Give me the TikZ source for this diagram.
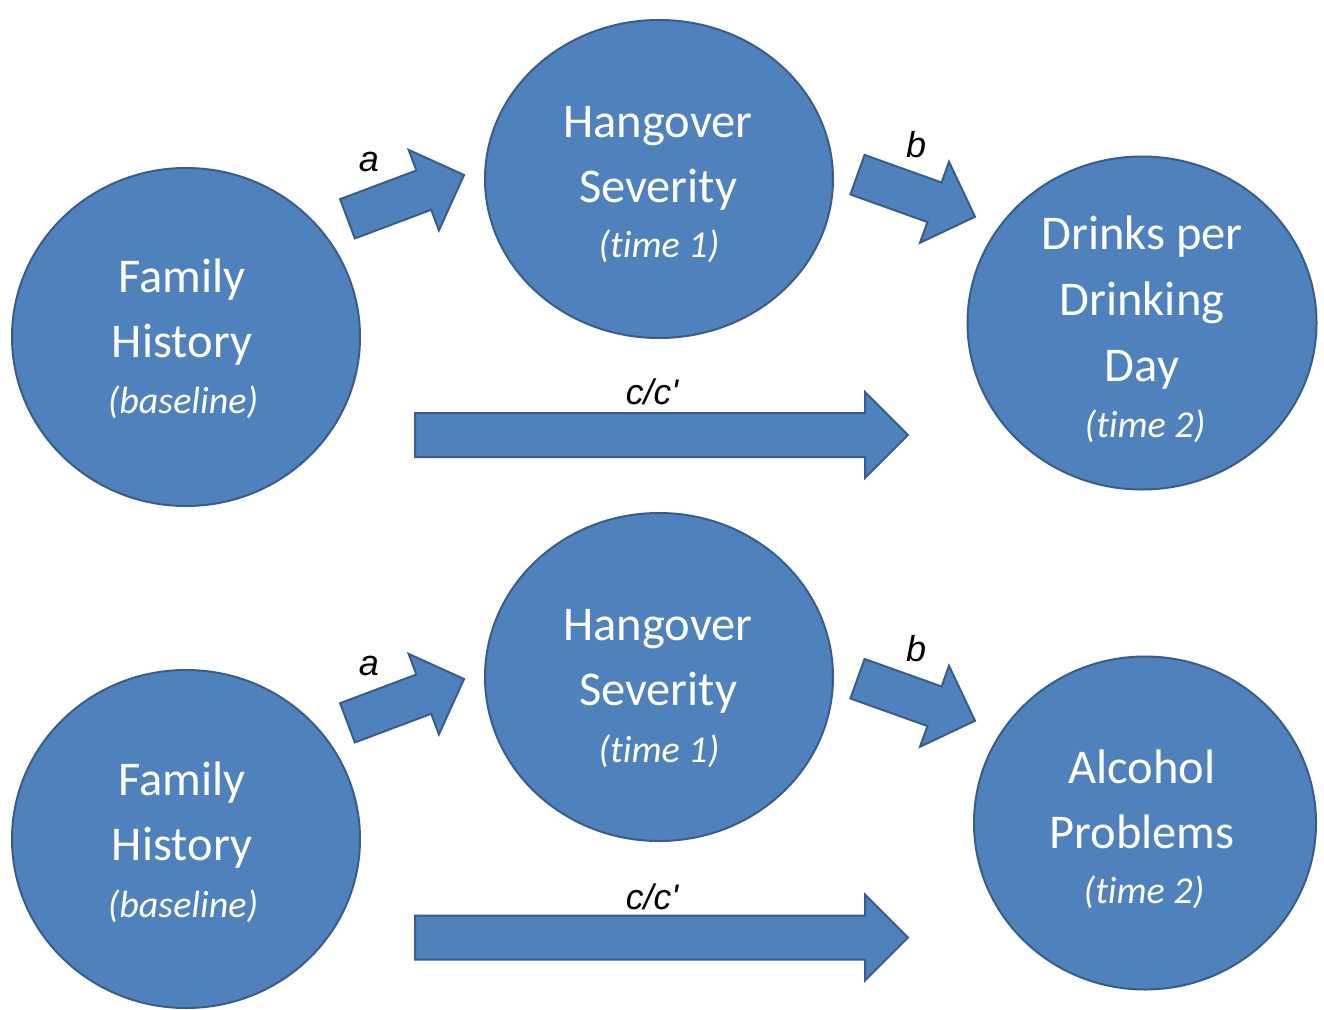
\documentclass[tikz,border=0pt]{standalone}
\usepackage{fontspec}
\setmainfont{Carlito}[Ligatures={NoCommon}]
\newfontfamily\labelfont{Liberation Sans}
\usetikzlibrary{shapes.geometric}
\definecolor{nodefill}{HTML}{4F81BD}
\definecolor{nodeedge}{HTML}{385D8A}
\tikzset{
  var/.style={ellipse, fill=nodefill, draw=nodeedge, line width=2pt, inner sep=0pt},
  bigtext/.style={text=white, anchor=base, inner sep=0pt, font=\fontsize{48.5}{58}\selectfont},
  smalltext/.style={text=white, anchor=base, inner sep=0pt, font=\fontsize{38}{44}\selectfont\itshape},
  pathlabel/.style={anchor=base, inner sep=0pt, font=\labelfont\itshape\fontsize{36}{40}\selectfont},
  clabel/.style={anchor=base, inner sep=0pt, font=\labelfont\itshape\fontsize{35.5}{38}\selectfont},
  blockarrow/.style={fill=nodefill, draw=nodeedge, line width=2pt, line join=miter},
}
% #1,#2 tail middle, #3 angle, #4 length, #5 shaft half-width
\newcommand\blockarrow[5]{%
  \begin{scope}[shift={(#1,#2)},rotate=#3]
    \draw[blockarrow] (0,#5) -- (#4-43,#5) -- (#4-43,43) -- (#4,0)
      -- (#4-43,-43) -- (#4-43,-#5) -- (0,-#5) -- cycle;
  \end{scope}}
\begin{document}
\begin{tikzpicture}[x=1pt,y=-1pt]
\useasboundingbox[fill=white] (0,0) rectangle (1324,1009);

% ---------- top model ----------
\node[var, minimum width=348, minimum height=338] (fh1) at (186,337) {};
\node[var, minimum width=348, minimum height=318] (hs1) at (659,179) {};
\node[var, minimum width=349, minimum height=333] (dpd) at (1142,323) {};

\node[bigtext]   (fh1a) at (182,292) {Family};
\node[bigtext]   (fh1b) at (182,357) {History};
\node[smalltext] (fh1c) at (183,413) {(baseline)};

\node[bigtext]   (hs1a) at (658,137) {Hangover};
\node[bigtext]   (hs1b) at (658,202) {Severity};
\node[smalltext] (hs1c) at (659,257) {(time 1)};

\node[bigtext]   (dpda) at (1142,249) {Drinks per};
\node[bigtext]   (dpdb) at (1142,315) {Drinking};
\node[bigtext]   (dpdc) at (1142,381) {Day};
\node[smalltext] (dpdd) at (1145,437) {(time 2)};

\blockarrow{347.5}{218.8}{20.6}{124.5}{21}
\blockarrow{857.5}{174.7}{-19.7}{124.8}{21}
\blockarrow{415}{435}{0}{493}{22}

\node[pathlabel] (la1) at (369,171) {a};
\node[pathlabel] (lb1) at (916,157) {b};
\node[clabel]    (lc1) at (652,404) {c/c'};

% ---------- bottom model ----------
\node[var, minimum width=348, minimum height=338] (fh2) at (186,839) {};
\node[var, minimum width=348, minimum height=328] (hs2) at (659,677) {};
\node[var, minimum width=342, minimum height=333] (ap)  at (1145,823) {};

\node[bigtext]   (fh2a) at (182,795) {Family};
\node[bigtext]   (fh2b) at (182,860) {History};
\node[smalltext] (fh2c) at (183,917) {(baseline)};

\node[bigtext]   (hs2a) at (658,640) {Hangover};
\node[bigtext]   (hs2b) at (658,705) {Severity};
\node[smalltext] (hs2c) at (659,762) {(time 1)};

\node[bigtext]   (apa) at (1142,783) {Alcohol};
\node[bigtext]   (apb) at (1142,848) {Problems};
\node[smalltext] (apc) at (1144,903) {(time 2)};

\blockarrow{347.5}{722.8}{20.6}{124.5}{21}
\blockarrow{857.5}{678.7}{-19.7}{124.8}{21}
\blockarrow{415}{937.5}{0}{493}{22}

\node[pathlabel] (la2) at (369,675) {a};
\node[pathlabel] (lb2) at (916,661) {b};
\node[clabel]    (lc2) at (652,909) {c/c'};
\end{tikzpicture}
\end{document}
